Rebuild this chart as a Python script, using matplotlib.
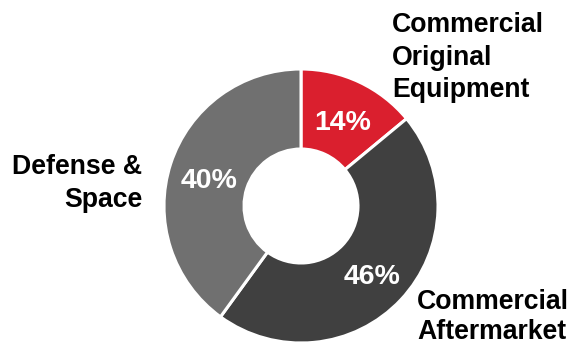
import matplotlib
matplotlib.use("Agg")
import matplotlib.pyplot as plt

categories = ["Commercial\nOriginal\nEquipment", "Commercial\nAftermarket", "Defense &\nSpace"]
values = [14, 46, 40]
colors = ["#DA1F2E", "#404040", "#707070"]

plt.rcParams['font.family'] = ['Liberation Sans', 'DejaVu Sans']

fig = plt.figure(figsize=(5.7, 3.44), dpi=100)
ax = fig.add_axes([0, 0, 1, 1])
W, H = 570, 344
cx, cy, R = 301, H - 206, 137
r_in = 57

wedges, texts, autotexts = ax.pie(
    values, colors=colors, startangle=90, counterclock=False,
    center=(cx, cy), radius=R, autopct=lambda p: f"{p:.0f}%",
    pctdistance=(R + r_in) / 2 / R,
    wedgeprops=dict(width=R - r_in, edgecolor="white", linewidth=2.2),
    textprops=dict(color="white", fontsize=20.5, fontweight="bold"),
)
for t in autotexts:
    x, y = t.get_position()
    t.set_position((x, y - 5))

lbl = dict(fontsize=19.2, fontweight="bold", color="black", linespacing=1.33)
ax.text(392, H - 12, categories[0], ha="left", va="top", **lbl)
ax.text(417, H - 289, categories[1], ha="left", va="top", linespacing=1.2,
        **{k: v for k, v in lbl.items() if k != "linespacing"})
ax.text(142, H - 154, categories[2], ha="right", va="top",
        multialignment="right", **lbl)

ax.set_xlim(0, W)
ax.set_ylim(0, H)
ax.set_aspect("equal")
ax.axis("off")
fig.savefig("out.png", dpi=100)
